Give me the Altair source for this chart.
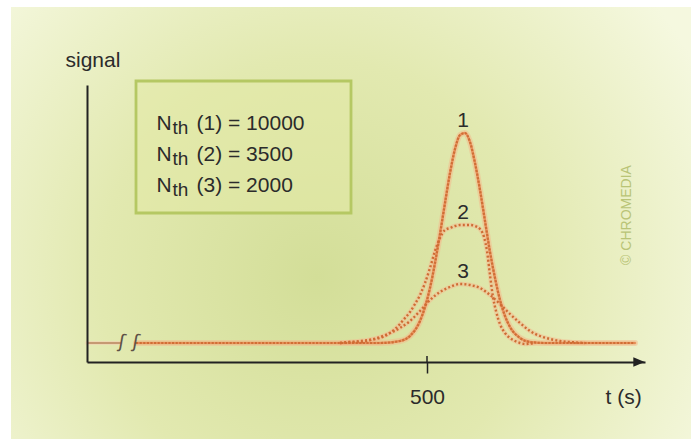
import altair as alt
import pandas as pd

# ---------------- data ----------------
# curve 1 : N = 10000 (t in s, signal in arbitrary units)
t1 = [209, 453, 473, 483, 493, 498, 503, 508, 513, 518, 523, 528, 533, 538, 543, 548,
      553, 558, 563, 568, 573, 578, 583, 593, 603, 618, 708]
s1 = [0, 0, 2, 7, 22, 36, 55, 80, 109, 140, 170, 194, 208, 210, 201, 180,
      153, 122, 91, 65, 43, 27, 16, 5, 1, 0, 0]
# curve 2 : N = 3500
t2 = [413, 433, 453, 463, 473, 478, 483, 488, 493, 498, 503, 508, 513, 518, 523, 528,
      533, 538, 543, 548, 553, 557, 560, 563, 566, 569, 573, 578, 583, 588, 593, 598, 608]
s2 = [0, 2, 5, 10, 19, 25, 31, 39, 48, 60, 75, 92, 105, 113, 115, 117,
      118, 118, 118, 117, 114, 106, 92, 68, 46, 32, 19, 10, 5, 2, 0, -1, 0]
# curve 3 : N = 2000
t3 = [413, 423, 433, 443, 453, 463, 473, 483, 493, 503, 513, 523, 533, 543, 553, 563,
      573, 583, 593, 603, 613, 623, 633, 643, 658]
s3 = [0, 1, 1, 3, 6, 10, 15, 22, 32, 43, 51, 56, 59, 58, 55, 48,
      39, 29, 20, 12, 7, 4, 2, 1, 0]
# baseline piece before the axis break
t0 = [160, 194]
s0 = [0, 0]

curve_ids = ["1", "2", "3"]
plates = [10000, 3500, 2000]
peak_t = [536, 536, 536]
x_ticks = [500]

# ---------------- helpers ----------------
FONT = "Liberation Sans"
TXT = "#2b2b2b"
W, H = 558, 277

xs = alt.Scale(domain=[160, 718], nice=False, zero=False)
ys = alt.Scale(domain=[-19, 258], nice=False, zero=False)

xaxis = alt.Axis(values=x_ticks, title="t (s)", titleX=518, titleY=41, titleAlign="left",
                 titleBaseline="alphabetic", titleFontSize=21, titleFontWeight="normal",
                 titleFont=FONT, titleColor=TXT, labelFont=FONT, labelFontSize=21,
                 labelColor=TXT, labelBaseline="alphabetic", labelPadding=30,
                 tickSize=11, tickWidth=1.5, tickColor="#222", domainColor="#222",
                 domainWidth=2, grid=False, zindex=1, labelFlush=False)
yaxis = alt.Axis(title="signal", titleAngle=0, titleX=-22, titleY=-19, titleAlign="left",
                 titleBaseline="alphabetic", titleFontSize=21, titleFontWeight="normal",
                 titleFont=FONT, titleColor=TXT, labels=False, ticks=False,
                 domainColor="#222", domainWidth=2, grid=False, zindex=1)
X = alt.X("t:Q", scale=xs, axis=xaxis)
Y = alt.Y("s:Q", scale=ys, axis=yaxis)

df1 = pd.DataFrame({"t": t1, "s": s1})
df2 = pd.DataFrame({"t": t2, "s": s2})
df3 = pd.DataFrame({"t": t3, "s": s3})
df0 = pd.DataFrame({"t": t0, "s": s0})
dummy = pd.DataFrame({"k": [0]})

# ---------------- layers ----------------
bg = alt.Chart(dummy).mark_rect(
    fill={"gradient": "radial", "x1": 0.45, "y1": 0.58, "r1": 0,
          "x2": 0.45, "y2": 0.58, "r2": 0.64,
          "stops": [{"offset": 0, "color": "#d3de98"},
                    {"offset": 0.5, "color": "#e2e9b0"},
                    {"offset": 1, "color": "#f5f8df"}]}
).encode(x=alt.value(-76), x2=alt.value(604), y=alt.value(-78), y2=alt.value(354))

box = alt.Chart(dummy).mark_rect(
    fill="#e3e9a6", fillOpacity=0.5, stroke="#b5c863", strokeWidth=2.8
).encode(x=alt.value(49), x2=alt.value(264), y=alt.value(-4), y2=alt.value(128))

legend_txt = pd.DataFrame({
    "n": ["\n".join(["N"] * 3)],
    "th": ["\n".join(["th"] * 3)],
    "rest": ["\n".join(f"({c}) = {p}" for c, p in zip(curve_ids, plates))],
})
leg_n = alt.Chart(legend_txt).mark_text(
    align="left", baseline="alphabetic", fontSize=21, lineHeight=31, font=FONT,
    color=TXT, lineBreak="\n").encode(x=alt.value(69.5), y=alt.value(45), text="n:N")
leg_th = alt.Chart(legend_txt).mark_text(
    align="left", baseline="alphabetic", fontSize=19, lineHeight=31, font=FONT,
    color=TXT, lineBreak="\n").encode(x=alt.value(85.5), y=alt.value(48.5), text="th:N")
leg_rest = alt.Chart(legend_txt).mark_text(
    align="left", baseline="alphabetic", fontSize=21, lineHeight=31, font=FONT,
    color=TXT, lineBreak="\n").encode(x=alt.value(109.5), y=alt.value(45), text="rest:N")


def halo(df, color, width, op):
    return alt.Chart(df).mark_line(color=color, strokeWidth=width, opacity=op,
                                   interpolate="monotone", strokeCap="round").encode(x=X, y=Y)


def dotted(df, color, width, dash):
    return alt.Chart(df).mark_line(color=color, strokeWidth=width, strokeDash=dash,
                                   interpolate="monotone").encode(x=X, y=Y)


pre = alt.Chart(df0).mark_line(color="#b8835e", strokeWidth=1.6).encode(x=X, y=Y)
pre_h = halo(df0, "#f2cfb2", 4, 0.6)

c1h = halo(df1, "#f2bb8e", 6, 0.55)
c1s = halo(df1, "#e99660", 2.6, 1)
c1d = dotted(df1, "#d06e36", 2.2, [2.2, 1.4])
c2h = halo(df2, "#f2c095", 4.5, 0.6)
c2d = dotted(df2, "#cf6c34", 2.4, [2, 2.2])
c3h = halo(df3, "#f2c095", 4.5, 0.6)
c3d = dotted(df3, "#cf6c34", 2.4, [2, 2.2])

breaks = alt.Chart(pd.DataFrame({"x": [35, 49]})).mark_text(
    text="ʃ", font="DejaVu Sans", fontSize=19, color="#5e5246", angle=10
).encode(x=alt.X("x:Q", scale=None), y=alt.value(257))

arrow = alt.Chart(dummy).mark_point(
    shape="M-1,-0.85L1,0L-1,0.85Z", filled=True, size=130, color="#222", opacity=1
).encode(x=alt.value(552), y=alt.value(277))

tick_up = alt.Chart(pd.DataFrame({"t": x_ticks})).mark_rule(
    color="#222", strokeWidth=1.5).encode(x=X, y=alt.value(271), y2=alt.value(277))

peaks = pd.DataFrame({"id": curve_ids, "t": peak_t, "s": [max(s1), max(s2), max(s3)]})
labels = alt.Chart(peaks).mark_text(
    fontSize=21, font=FONT, color=TXT, baseline="alphabetic", dy=-6
).encode(x=X, y=Y, text="id:N")

mark = alt.Chart(dummy).mark_text(
    text="© CHROMEDIA", angle=270, fontSize=14, font=FONT, color="#b9c476"
).encode(x=alt.value(540), y=alt.value(130))

chart = alt.layer(
    bg, box, leg_n, leg_th, leg_rest,
    pre_h, pre, c3h, c2h, c1h, c1s, c1d, c2d, c3d,
    breaks, arrow, tick_up, labels, mark
).properties(
    width=W, height=H,
    padding={"left": 87, "top": 85, "right": 46, "bottom": 77},
    autosize=alt.AutoSizeParams(type="none"),
    background="white",
).configure_view(stroke=None)

chart.save("out.html", embed_options={"renderer": "svg", "actions": False})
